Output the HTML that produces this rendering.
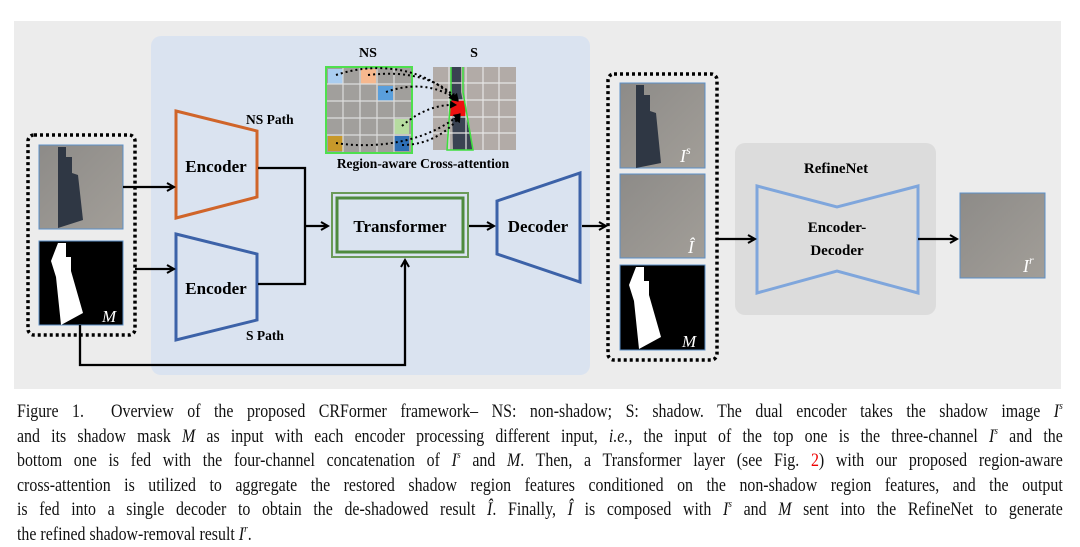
<!DOCTYPE html><html><head><style>
body{margin:0;width:1080px;height:545px;background:#fff;overflow:hidden;font-family:"Liberation Serif",serif}
.cap{position:absolute;left:17px;width:1216px;top:400px;font-size:18.5px;line-height:24.5px;color:#111;transform:scaleX(0.86);transform-origin:0 0}
.cap div{white-space:nowrap;text-align:justify;text-align-last:justify;height:24.5px}
.cap div:last-child{text-align-last:left}
sup{font-size:11px;vertical-align:baseline;position:relative;top:-8px;line-height:0}
</style></head><body>
<svg width="1080" height="395" style="position:absolute;left:0;top:0" font-family="Liberation Serif" font-weight="bold">
<defs>
<marker id="a" markerWidth="10" markerHeight="10" refX="8" refY="5" orient="auto" markerUnits="userSpaceOnUse"><path d="M1,1 L8,5 L1,9" fill="none" stroke="#000" stroke-width="2"/></marker>
<marker id="b" markerWidth="8" markerHeight="8" refX="6" refY="4" orient="auto" markerUnits="userSpaceOnUse"><path d="M0,0 L7,4 L0,8z" fill="#000"/></marker>
<linearGradient id="g" x1="0" y1="0" x2="1" y2="1"><stop offset="0" stop-color="#8d8b88"/><stop offset="1" stop-color="#a29e98"/></linearGradient>
</defs>
<rect x="14" y="21" width="1047" height="368" fill="#ececec"/>
<rect x="151" y="36" width="439" height="339" rx="10" fill="#dae3f0"/>
<rect x="28" y="135" width="107" height="200" rx="6" fill="none" stroke="#000" stroke-width="3.5" stroke-dasharray="3 3"/>
<rect x="39" y="145" width="84" height="84" fill="url(#g)" stroke="#5b8fc7"/>
<path d="M58,147 h8 v10 h6 v16 l6,2 l5,45 l-25,8 z" fill="#2f3744"/>
<rect x="39" y="241" width="84" height="84" fill="#000" stroke="#5b8fc7"/>
<path d="M58,243 h8 v14 h5 v14 l12,42 l-22,12 l-5,-48 l-5,-16 z" fill="#fff"/>
<text x="102" y="322" fill="#fff" font-style="italic" font-size="17" font-weight="normal">M</text>
<path d="M176,111 L257,131 L257,197 L176,218Z" fill="none" stroke="#d0652a" stroke-width="3"/>
<path d="M176,234 L257,254 L257,320 L176,340Z" fill="none" stroke="#3c62a8" stroke-width="3"/>
<text x="216" y="172" text-anchor="middle" font-size="17">Encoder</text>
<text x="216" y="294" text-anchor="middle" font-size="17">Encoder</text>
<text x="246" y="124" font-size="13.5">NS Path</text>
<text x="246" y="340" font-size="13.5">S Path</text>
<rect x="332" y="193" width="136" height="64" fill="none" stroke="#6a9a58" stroke-width="2"/>
<rect x="337" y="198" width="126" height="54" fill="none" stroke="#4e8a3e" stroke-width="3"/>
<text x="400" y="232" text-anchor="middle" font-size="17">Transformer</text>
<path d="M497,201 L580,173 L580,282 L497,254Z" fill="none" stroke="#3c62a8" stroke-width="3"/>
<text x="538" y="232" text-anchor="middle" font-size="17">Decoder</text>
<text x="368" y="57" text-anchor="middle" font-size="14">NS</text>
<text x="474" y="57" text-anchor="middle" font-size="14">S</text>
<rect x="326" y="67" width="86" height="86" fill="#a19f9c"/>
<rect x="328" y="69" width="15" height="15" fill="#aacdf0"/>
<rect x="361" y="69" width="15" height="15" fill="#f6b88e"/>
<rect x="378" y="86" width="15" height="15" fill="#5a9fdc"/>
<rect x="394" y="119" width="15" height="15" fill="#b6dca0"/>
<rect x="328" y="136" width="15" height="15" fill="#c7982a"/>
<rect x="394" y="136" width="15" height="15" fill="#2e6fb5"/>
<g stroke="#ddd" stroke-width="1.2"><path d="M343,67V153M360,67V153M377,67V153M394,67V153M326,84H412M326,101H412M326,118H412M326,135H412"/></g>
<rect x="326" y="67" width="86" height="86" fill="none" stroke="#4ee04e" stroke-width="2"/>
<rect x="433" y="67" width="83" height="83" fill="#b2aba7"/>
<path d="M451,67 h10 v25 l12,58 h-20 z" fill="#3a4252"/>
<rect x="450" y="100" width="16" height="16" fill="#ee1111"/>
<g stroke="#e6e6e6" stroke-width="1.2"><path d="M449,67V150M466,67V150M483,67V150M499,67V150M433,83H516M433,100H516M433,117H516M433,133H516"/></g>
<path d="M451,67 v25 l-4,58 h26 l-10,-58 v-25" fill="none" stroke="#3ee03e" stroke-width="1.5"/>
<g fill="none" stroke="#000" stroke-width="2" stroke-dasharray="2 3">
<path d="M336,75 C380,60 430,70 455,100" marker-end="url(#b)"/>
<path d="M368,75 C410,70 440,80 458,100" marker-end="url(#b)"/>
<path d="M386,92 C420,80 445,90 458,101" marker-end="url(#b)"/>
<path d="M402,126 C420,110 440,104 456,105" marker-end="url(#b)"/>
<path d="M336,143 C380,150 430,140 460,114" marker-end="url(#b)"/>
<path d="M402,145 C430,145 450,130 460,116" marker-end="url(#b)"/>
</g>
<text x="423" y="168" text-anchor="middle" font-size="13.5">Region-aware Cross-attention</text>
<rect x="608" y="74" width="109" height="286" rx="6" fill="none" stroke="#000" stroke-width="3.5" stroke-dasharray="3 3"/>
<rect x="620" y="83" width="85" height="85" fill="url(#g)" stroke="#5b8fc7"/>
<path d="M636,85 h8 v10 h6 v16 l6,2 l5,50 l-25,5 z" fill="#2f3744"/>
<text x="680" y="162" fill="#fff" font-style="italic" font-size="18" font-weight="normal">I<tspan font-size="12" dy="-8">s</tspan></text>
<rect x="620" y="174" width="85" height="84" fill="url(#g)" stroke="#5b8fc7"/>
<text x="688" y="253" fill="#fff" font-style="italic" font-size="18" font-weight="normal">Î</text>
<rect x="620" y="265" width="85" height="85" fill="#000" stroke="#5b8fc7"/>
<path d="M636,267 h8 v14 h5 v14 l12,42 l-22,12 l-5,-48 l-5,-16 z" fill="#fff"/>
<text x="682" y="347" fill="#fff" font-style="italic" font-size="17" font-weight="normal">M</text>
<rect x="735" y="143" width="201" height="172" rx="10" fill="#dcdcdc"/>
<text x="836" y="173" text-anchor="middle" font-size="15">RefineNet</text>
<path d="M757,186 L837,207 L918,186 L918,293 L837,271 L757,293Z" fill="none" stroke="#7fa6dc" stroke-width="3"/>
<text x="837" y="232" text-anchor="middle" font-size="15">Encoder-</text>
<text x="837" y="255" text-anchor="middle" font-size="15">Decoder</text>
<rect x="960" y="193" width="85" height="85" fill="url(#g)" stroke="#5b8fc7"/>
<text x="1023" y="272" fill="#fff" font-style="italic" font-size="18" font-weight="normal">I<tspan font-size="12" dy="-8">r</tspan></text>
<g fill="none" stroke="#000" stroke-width="2.3">
<path d="M123,187 H174" marker-end="url(#a)"/>
<path d="M135,269 H174" marker-end="url(#a)"/>
<path d="M258,168 H305 V284 H258"/>
<path d="M305,226 H328" marker-end="url(#a)"/>
<path d="M80,325 V365 H405 V260" marker-end="url(#a)"/>
<path d="M469,226 H494" marker-end="url(#a)"/>
<path d="M582,226 H606" marker-end="url(#a)"/>
<path d="M717,239 H755" marker-end="url(#a)"/>
<path d="M918,239 H957" marker-end="url(#a)"/>
</g>
</svg>
<div class="cap">
<div>Figure 1.&nbsp; Overview of the proposed CRFormer framework– NS: non-shadow; S: shadow. The dual encoder takes the shadow image <i>I<sup>s</sup></i></div>
<div>and its shadow mask <i>M</i> as input with each encoder processing different input, <i>i.e.,</i> the input of the top one is the three-channel <i>I<sup>s</sup></i> and the</div>
<div>bottom one is fed with the four-channel concatenation of <i>I<sup>s</sup></i> and <i>M</i>. Then, a Transformer layer (see Fig. <span style="color:#e00">2</span>) with our proposed region-aware</div>
<div>cross-attention is utilized to aggregate the restored shadow region features conditioned on the non-shadow region features, and the output</div>
<div>is fed into a single decoder to obtain the de-shadowed result <i>Î</i>. Finally, <i>Î</i> is composed with <i>I<sup>s</sup></i> and <i>M</i> sent into the RefineNet to generate</div>
<div>the refined shadow-removal result <i>I<sup>r</sup></i>.</div>
</div>
</body></html>
